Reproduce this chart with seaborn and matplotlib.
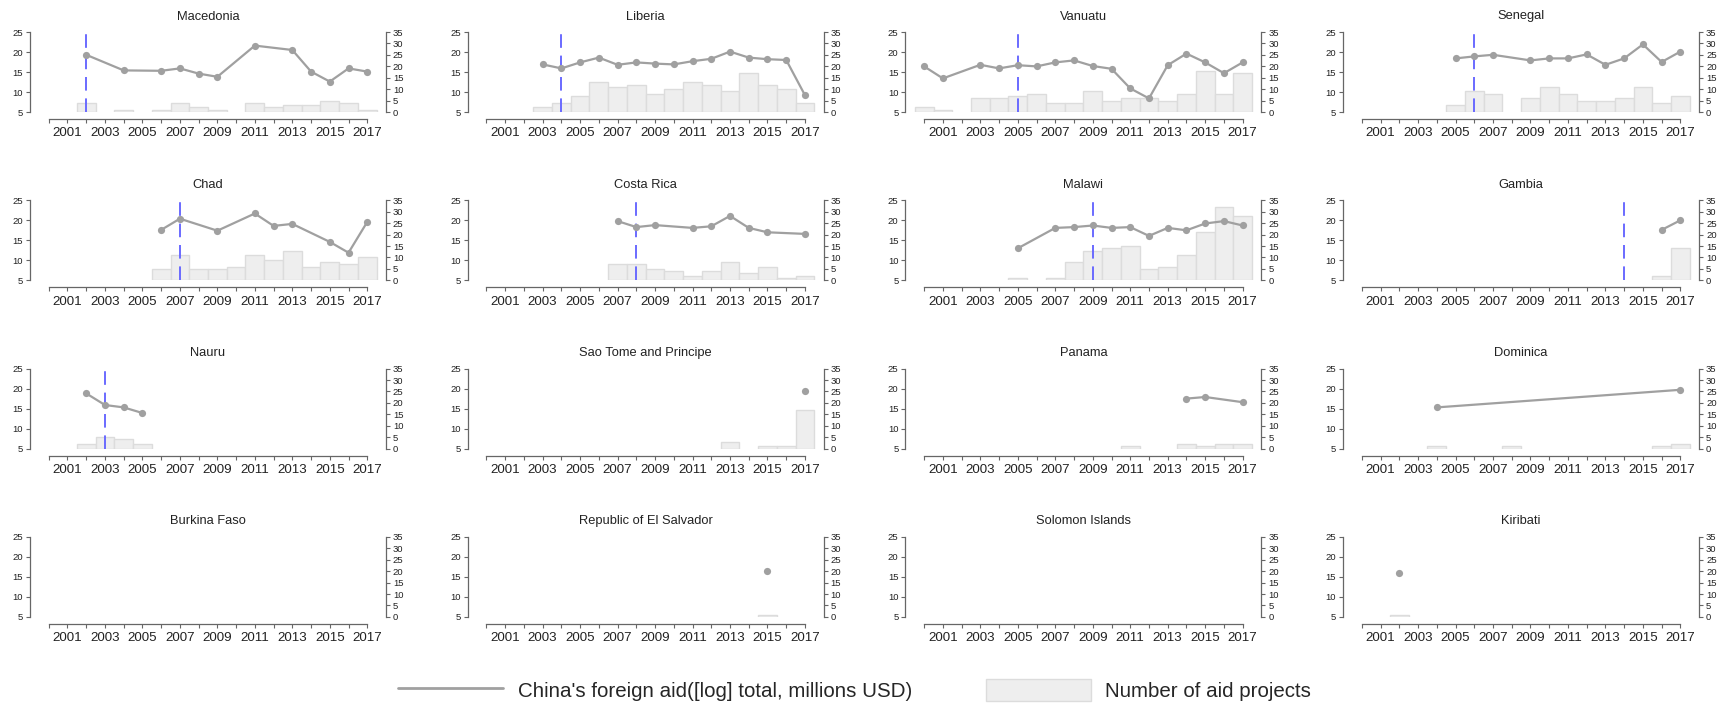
import matplotlib
matplotlib.use("Agg")
import matplotlib.pyplot as plt
import seaborn as sns
import pandas as pd
from matplotlib.lines import Line2D
from matplotlib.patches import Patch

# panel order and the year of the diplomatic switch (None = no marker)
countries = ["Macedonia", "Liberia", "Vanuatu", "Senegal",
             "Chad", "Costa Rica", "Malawi", "Gambia",
             "Nauru", "Sao Tome and Principe", "Panama", "Dominica",
             "Burkina Faso", "Republic of El Salvador", "Solomon Islands", "Kiribati"]
switch_years = [2002, 2004, 2005, 2006,
                2007, 2008, 2009, 2014,
                2003, None, None, None,
                None, None, None, None]

# China's foreign aid, log total (left axis), by year
aid_macedonia = {2002: 19.3, 2004: 15.4, 2006: 15.3, 2007: 15.9, 2008: 14.6, 2009: 13.8,
                 2011: 21.6, 2013: 20.5, 2014: 15.1, 2015: 12.6, 2016: 15.9, 2017: 15.1}
aid_liberia = {2003: 16.9, 2004: 15.9, 2005: 17.4, 2006: 18.6, 2007: 16.8, 2008: 17.4,
               2009: 17.1, 2010: 16.9, 2011: 17.7, 2012: 18.3, 2013: 20.1, 2014: 18.6,
               2015: 18.2, 2016: 18.0, 2017: 9.2}
aid_vanuatu = {2000: 16.4, 2001: 13.4, 2003: 16.8, 2004: 15.9, 2005: 16.7, 2006: 16.4,
               2007: 17.4, 2008: 17.9, 2009: 16.5, 2010: 15.8, 2011: 10.9, 2012: 8.4,
               2013: 16.7, 2014: 19.6, 2015: 17.4, 2016: 14.7, 2017: 17.4}
aid_senegal = {2005: 18.4, 2006: 18.9, 2007: 19.3, 2009: 17.9, 2010: 18.4, 2011: 18.4,
               2012: 19.4, 2013: 16.8, 2014: 18.4, 2015: 21.9, 2016: 17.5, 2017: 20.1}
aid_chad = {2006: 17.6, 2007: 20.4, 2009: 17.4, 2011: 21.7, 2012: 18.6, 2013: 19.1,
            2015: 14.6, 2016: 11.9, 2017: 19.6}
aid_costa_rica = {2007: 19.8, 2008: 18.3, 2009: 18.8, 2011: 18.1, 2012: 18.5, 2013: 21.1,
                  2014: 18.1, 2015: 17.0, 2017: 16.6}
aid_malawi = {2005: 13.0, 2007: 18.1, 2008: 18.3, 2009: 18.7, 2010: 18.1, 2011: 18.3,
              2012: 16.1, 2013: 18.1, 2014: 17.5, 2015: 19.2, 2016: 19.8, 2017: 18.7}
aid_gambia = {2016: 17.6, 2017: 20.0}
aid_nauru = {2002: 18.8, 2003: 15.9, 2004: 15.3, 2005: 13.9}
aid_sao_tome = {2017: 19.4}
aid_panama = {2014: 17.5, 2015: 17.9, 2017: 16.6}
aid_dominica = {2004: 15.3, 2017: 19.7}
aid_burkina = {}
aid_el_salvador = {2015: 16.5}
aid_solomon = {}
aid_kiribati = {2002: 16.0}

# number of aid projects (right axis), by year
proj_macedonia = {2002: 4, 2004: 1, 2006: 1, 2007: 4, 2008: 2, 2009: 1, 2011: 4,
                  2012: 2, 2013: 3, 2014: 3, 2015: 5, 2016: 4, 2017: 1}
proj_liberia = {2003: 2, 2004: 4, 2005: 7, 2006: 13, 2007: 11, 2008: 12, 2009: 8,
                2010: 10, 2011: 13, 2012: 12, 2013: 9, 2014: 17, 2015: 12, 2016: 10, 2017: 4}
proj_vanuatu = {2000: 2, 2001: 1, 2003: 6, 2004: 6, 2005: 7, 2006: 8, 2007: 4, 2008: 4,
                2009: 9, 2010: 5, 2011: 6, 2012: 6, 2013: 5, 2014: 8, 2015: 18, 2016: 8, 2017: 17}
proj_senegal = {2005: 3, 2006: 9, 2007: 8, 2009: 6, 2010: 11, 2011: 8, 2012: 5,
                2013: 5, 2014: 6, 2015: 11, 2016: 4, 2017: 7}
proj_chad = {2006: 5, 2007: 11, 2008: 5, 2009: 5, 2010: 6, 2011: 11, 2012: 9,
             2013: 13, 2014: 6, 2015: 8, 2016: 7, 2017: 10}
proj_costa_rica = {2007: 7, 2008: 7, 2009: 5, 2010: 4, 2011: 2, 2012: 4, 2013: 8,
                   2014: 3, 2015: 6, 2016: 1, 2017: 2}
proj_malawi = {2005: 1, 2007: 1, 2008: 8, 2009: 13, 2010: 14, 2011: 15, 2012: 5,
               2013: 6, 2014: 11, 2015: 21, 2016: 32, 2017: 28}
proj_gambia = {2016: 2, 2017: 14}
proj_nauru = {2002: 2, 2003: 5, 2004: 4, 2005: 2}
proj_sao_tome = {2013: 3, 2015: 1, 2016: 1, 2017: 17}
proj_panama = {2011: 1, 2014: 2, 2015: 1, 2016: 2, 2017: 2}
proj_dominica = {2004: 1, 2008: 1, 2016: 1, 2017: 2}
proj_burkina = {}
proj_el_salvador = {2015: 1}
proj_solomon = {}
proj_kiribati = {2002: 1}

aid = [aid_macedonia, aid_liberia, aid_vanuatu, aid_senegal,
       aid_chad, aid_costa_rica, aid_malawi, aid_gambia,
       aid_nauru, aid_sao_tome, aid_panama, aid_dominica,
       aid_burkina, aid_el_salvador, aid_solomon, aid_kiribati]
projects = [proj_macedonia, proj_liberia, proj_vanuatu, proj_senegal,
            proj_chad, proj_costa_rica, proj_malawi, proj_gambia,
            proj_nauru, proj_sao_tome, proj_panama, proj_dominica,
            proj_burkina, proj_el_salvador, proj_solomon, proj_kiribati]

years = list(range(2000, 2018))

sns.set_style("ticks")
plt.rcParams["font.family"] = ["Liberation Sans", "DejaVu Sans"]

W, H = 1730, 713
LINE_C = "#a0a0a0"
BAR_FACE = "#eeeeee"
BAR_EDGE = "#dcdcdc"
AXIS_C = "#666666"
SWITCH_C = "#6a6aff"

fig = plt.figure(figsize=(W / 100, H / 100), dpi=100)

for i, name in enumerate(countries):
    r, c = divmod(i, 4)
    left = 30 + 437.7 * c
    top = 32 + 168.3 * r
    ax = fig.add_axes([left / W, 1 - (top + 80) / H, 356 / W, 80 / H])
    ax2 = ax.twinx()
    ax.set_zorder(ax2.get_zorder() + 1)
    ax.patch.set_visible(False)

    # bars: number of projects on right axis
    p = projects[i]
    if p:
        ax2.bar(list(p.keys()), list(p.values()), width=1.0,
                color=BAR_FACE, edgecolor=BAR_EDGE, linewidth=1.0)

    # switch year
    if switch_years[i] is not None:
        ax.axvline(switch_years[i], color=SWITCH_C, lw=1.4, dashes=(7, 4), zorder=1)

    # line: aid on left axis
    a = aid[i]
    if a:
        df = pd.DataFrame({"year": list(a.keys()), "aid": list(a.values())})
        sns.lineplot(data=df, x="year", y="aid", ax=ax, color=LINE_C, lw=1.6,
                     marker="o", markersize=5.2, markeredgewidth=0, zorder=3)
        for ln in ax.lines:
            ln.set_clip_on(False)

    ax.set_xlim(1999, 2018)
    ax.set_ylim(5, 25)
    ax2.set_ylim(0, 35)

    ax.set_xticks(years)
    ax.set_xticklabels([str(y) if y % 2 == 1 else "" for y in years])
    ax.set_yticks([5, 10, 15, 20, 25])
    ax2.set_yticks(range(0, 36, 5))
    ax.set_xlabel("")
    ax.set_ylabel("")
    ax2.set_ylabel("")

    for s in ["top", "right"]:
        ax.spines[s].set_visible(False)
    for s in ["top", "left", "bottom"]:
        ax2.spines[s].set_visible(False)
    ax.spines["bottom"].set_bounds(2000, 2017)
    ax.spines["bottom"].set_position(("outward", 5))
    for sp in [ax.spines["left"], ax.spines["bottom"], ax2.spines["right"]]:
        sp.set_color(AXIS_C)
        sp.set_linewidth(0.9)

    ax.tick_params(axis="x", direction="out", length=3, width=0.8, color=AXIS_C,
                   labelsize=9.6, pad=3, labelcolor="#222222")
    ax.tick_params(axis="y", direction="out", length=3, width=0.8, color=AXIS_C,
                   labelsize=6.8, pad=2, labelcolor="#222222")
    ax2.tick_params(axis="y", direction="out", length=3, width=0.8, color=AXIS_C,
                    labelsize=6.8, pad=2, labelcolor="#222222")
    ax2.tick_params(axis="x", bottom=False, labelbottom=False)

    ax.set_title(name, fontsize=9.3, pad=9, color="#222222")

handles = [Line2D([0], [0], color=LINE_C, lw=2),
           Patch(facecolor=BAR_FACE, edgecolor=BAR_EDGE, linewidth=1)]
labels = ["China's foreign aid([log] total, millions USD)", "Number of aid projects"]
fig.legend(handles, labels, loc="center", bbox_to_anchor=(0.494, 1 - 690 / H),
           ncol=2, frameon=False, fontsize=14.8, handlelength=5.1, handleheight=1.3,
           handletextpad=0.7, columnspacing=3.6)

fig.savefig("out.png", dpi=100)
